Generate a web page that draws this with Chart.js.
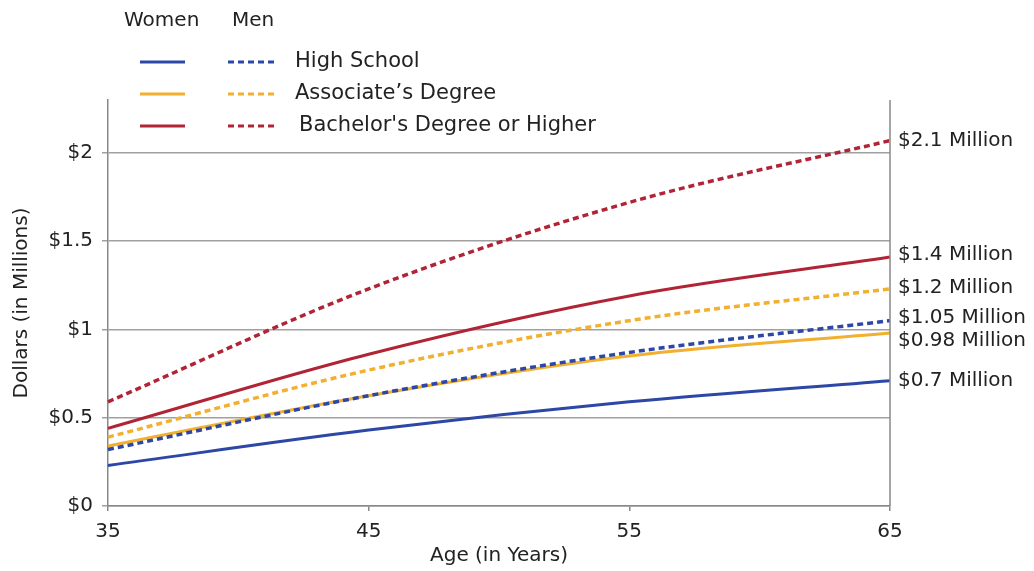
<!DOCTYPE html>
<html>
<head>
<meta charset="utf-8">
<script src="https://cdn.jsdelivr.net/npm/chart.js@4.4.1/dist/chart.umd.min.js"></script>
<style>
  html, body { margin: 0; padding: 0; background: #ffffff; }
  #wrap { position: relative; width: 1034px; height: 571px; }
</style>
</head>
<body>
<div id="wrap"><canvas id="c" width="1034" height="571"></canvas></div>
<script>
// ---- data ----
const ages = ['35', '45', '55', '65'];
const yTickValues = [0, 0.5, 1, 1.5, 2];

const womenHighSchool = [0.23, 0.43, 0.59, 0.71];
const menHighSchool = [0.32, 0.625, 0.87, 1.05];
const womenAssociate = [0.34, 0.625, 0.85, 0.98];
const menAssociate = [0.39, 0.77, 1.05, 1.23];
const womenBachelor = [0.44, 0.86, 1.19, 1.41];
const menBachelor = [0.59, 1.23, 1.72, 2.07];

const endLabels = ['$0.7 Million', '$1.05 Million', '$0.98 Million', '$1.2 Million', '$1.4 Million', '$2.1 Million'];
const legendGroups = ['Women', 'Men'];
const legendRows = ['High School', "Associate\u2019s Degree", "Bachelor's Degree or Higher"];

// ---- styles ----
const BLUE = '#2c47a5';
const ORANGE = '#f1b02f';
const RED = '#b12436';
const TEXT = '#222222';
const FONT = "'DejaVu Sans', sans-serif";
const DASH = [6, 4];

const seriesDefs = [
  { data: womenHighSchool, color: BLUE, dashed: false, nudge: 0 },
  { data: menHighSchool, color: BLUE, dashed: true, nudge: -3 },
  { data: womenAssociate, color: ORANGE, dashed: false, nudge: 8 },
  { data: menAssociate, color: ORANGE, dashed: true, nudge: -1 },
  { data: womenBachelor, color: RED, dashed: false, nudge: -2 },
  { data: menBachelor, color: RED, dashed: true, nudge: 0 }
];

const datasets = seriesDefs.map((s, i) => ({
  label: endLabels[i],
  data: s.data,
  borderColor: s.color,
  backgroundColor: s.color,
  borderWidth: s.dashed ? 3.5 : 3,
  borderDash: s.dashed ? DASH : [],
  pointRadius: 0,
  fill: false,
  cubicInterpolationMode: 'monotone',
  order: s.dashed ? 0 : 1
}));

const endLabelPlugin = {
  id: 'endLabels',
  afterDatasetsDraw(chart) {
    const { ctx, chartArea, scales } = chart;
    ctx.save();
    ctx.strokeStyle = '#888888';
    ctx.lineWidth = 1.5;
    ctx.beginPath();
    ctx.moveTo(chartArea.right, chartArea.top);
    ctx.lineTo(chartArea.right, chartArea.bottom);
    ctx.stroke();

    ctx.fillStyle = TEXT;
    ctx.font = '20px ' + FONT;
    ctx.textAlign = 'left';
    ctx.textBaseline = 'middle';
    seriesDefs.forEach((s, i) => {
      const v = s.data[s.data.length - 1];
      const y = scales.y.getPixelForValue(v) + s.nudge;
      ctx.fillText(endLabels[i], chartArea.right + 8, y);
    });
    ctx.restore();
  }
};

const legendPlugin = {
  id: 'customLegend',
  afterDraw(chart) {
    const { ctx } = chart;
    ctx.save();
    ctx.fillStyle = TEXT;
    ctx.font = '20px ' + FONT;
    ctx.textBaseline = 'middle';
    ctx.textAlign = 'left';
    ctx.fillText(legendGroups[0], 124, 21);
    ctx.fillText(legendGroups[1], 232, 21);
    const colors = [BLUE, ORANGE, RED];
    const rowY = [62, 94, 126];
    legendRows.forEach((t, i) => {
      ctx.lineWidth = 3;
      ctx.strokeStyle = colors[i];
      ctx.setLineDash([]);
      ctx.beginPath();
      ctx.moveTo(140, rowY[i]);
      ctx.lineTo(185, rowY[i]);
      ctx.stroke();
      ctx.setLineDash(DASH);
      ctx.beginPath();
      ctx.moveTo(228, rowY[i]);
      ctx.lineTo(276, rowY[i]);
      ctx.stroke();
      ctx.setLineDash([]);
      ctx.font = '21px ' + FONT;
      ctx.fillText(t, i === 2 ? 299 : 295, rowY[i]);
    });
    ctx.restore();
  }
};

new Chart(document.getElementById('c'), {
  type: 'line',
  data: { labels: ages, datasets },
  options: {
    responsive: false,
    animation: false,
    devicePixelRatio: 1,
    layout: { padding: { left: 0, right: 144, top: 100, bottom: 5 } },
    plugins: { legend: { display: false }, tooltip: { enabled: false } },
    scales: {
      x: {
        offset: false,
        grid: { drawOnChartArea: false, drawTicks: true, tickLength: 5, color: '#888888', lineWidth: 1.5 },
        border: { color: '#888888', width: 1.5 },
        ticks: { color: TEXT, font: { family: FONT, size: 20 }, padding: 9, maxRotation: 0 },
        title: { display: true, text: 'Age (in Years)', color: TEXT, font: { family: FONT, size: 20 }, padding: { top: 0, bottom: -2 } },
        afterFit(scale) { scale.height = 60; }
      },
      y: {
        min: 0,
        max: 2.3,
        afterBuildTicks(scale) { scale.ticks = yTickValues.map(v => ({ value: v })); },
        grid: { color: '#a0a0a0', lineWidth: 1.5, tickLength: 6 },
        border: { color: '#888888', width: 1.5 },
        ticks: { color: TEXT, font: { family: FONT, size: 20 }, padding: 9, callback: v => '$' + v },
        title: { display: true, text: 'Dollars (in Millions)', color: TEXT, font: { family: FONT, size: 20 }, padding: { top: 10, bottom: 0 } },
        afterFit(scale) { scale.width = 108; }
      }
    }
  },
  plugins: [endLabelPlugin, legendPlugin]
});
</script>
</body>
</html>
